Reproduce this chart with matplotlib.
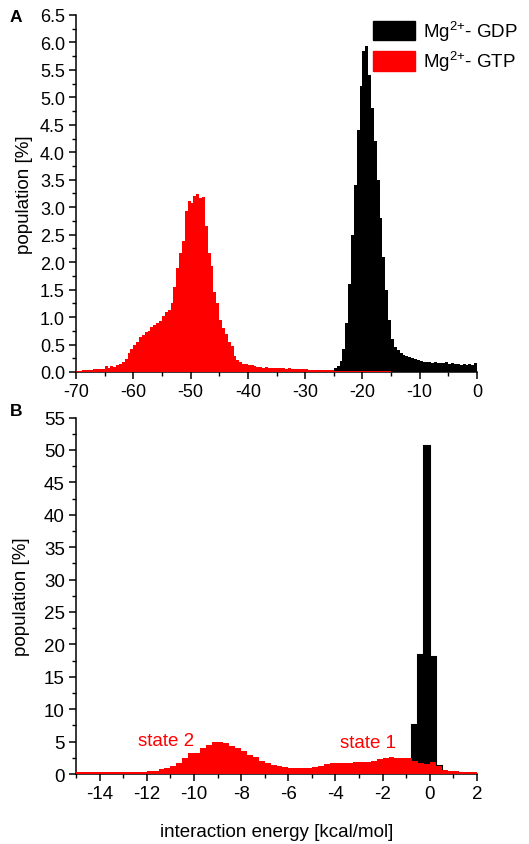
import numpy as np
import matplotlib
matplotlib.use("Agg")
import matplotlib.pyplot as plt
from matplotlib.patches import Patch
from matplotlib.ticker import MultipleLocator

plt.rcParams['font.family'] = ['Liberation Sans', 'DejaVu Sans']
plt.rcParams['mathtext.default'] = 'regular'
plt.rcParams['axes.unicode_minus'] = False

# panel A: bin width 0.5 kcal/mol
gtp_a_start, gtp_a_width = -70.0, 0.5
gtp_a = [0.02, 0.02, 0.03, 0.04, 0.04, 0.04, 0.05, 0.05, 0.06, 0.06,
         0.10, 0.08, 0.10, 0.09, 0.12, 0.15, 0.18, 0.23, 0.35, 0.42,
         0.50, 0.55, 0.64, 0.68, 0.72, 0.74, 0.82, 0.86, 0.90, 0.92,
         1.02, 1.10, 1.12, 1.25, 1.55, 1.90, 2.17, 2.39, 2.93, 3.11,
         3.08, 3.20, 3.24, 3.17, 3.18, 2.66, 2.17, 1.93, 1.45, 1.26,
         0.95, 0.80, 0.70, 0.55, 0.48, 0.30, 0.22, 0.18, 0.15, 0.14,
         0.13, 0.12, 0.10, 0.09,
         0.09, 0.08, 0.09, 0.08, 0.08, 0.07, 0.08, 0.07, 0.07, 0.06,
         0.07, 0.06, 0.06, 0.05, 0.06, 0.05,
         0.05, 0.04, 0.04, 0.04, 0.03, 0.04, 0.03, 0.03, 0.03, 0.03,
         0.02, 0.02, 0.02, 0.02, 0.02, 0.02, 0.02, 0.02, 0.02, 0.02,
         0.02, 0.02, 0.02, 0.02, 0.02, 0.02, 0.02, 0.02, 0.02, 0.02]

gdp_a_start, gdp_a_width = -27.0, 0.5
gdp_a = [0.02, 0.02, 0.03, 0.04, 0.07, 0.10,
         0.20, 0.42, 0.90, 1.60, 2.50, 3.40, 4.40, 5.20, 5.85, 5.94,
         5.40, 4.80, 4.20, 3.50, 2.80, 2.10, 1.50, 0.95, 0.60, 0.45,
         0.40, 0.35, 0.31, 0.29, 0.27, 0.25, 0.23, 0.22,
         0.20, 0.19, 0.18, 0.19, 0.17, 0.18, 0.16, 0.17, 0.16, 0.18,
         0.15, 0.16, 0.14, 0.15, 0.13, 0.14, 0.13, 0.15, 0.12, 0.17]

# panel B: bin width 0.25 kcal/mol
gtp_b_start, gtp_b_width = -15.0, 0.25
gtp_b = [0.30, 0.30, 0.30, 0.30, 0.30, 0.30, 0.30, 0.30, 0.30, 0.30, 0.30, 0.30,
         0.40, 0.50, 0.70, 0.90, 1.20, 1.70, 2.50, 3.20, 3.20, 4.00, 4.50, 4.90,
         4.90, 4.80, 4.40, 4.00, 3.50, 3.00, 2.60, 2.05, 1.70, 1.45, 1.20, 1.10,
         1.00, 1.00, 1.00, 1.00, 1.10, 1.30, 1.50, 1.65, 1.65, 1.65, 1.65, 1.85,
         1.85, 1.85, 2.05, 2.30, 2.45, 2.65, 2.55, 2.45, 2.45, 1.95, 1.70, 1.60,
         1.85, 1.20, 0.65, 0.40, 0.40, 0.25, 0.25, 0.25]

gdp_b_start, gdp_b_width = -0.75, 0.25
gdp_b = [7.6, 18.3, 50.6, 18.0, 1.3]

legend_labels = ['Mg$^{2{+}}$- GDP', 'Mg$^{2{+}}$- GTP']


def edges(start, width, vals):
    return start + width * np.arange(len(vals) + 1)


def style_axes(ax, fs):
    for s in ['top', 'right']:
        ax.spines[s].set_visible(False)
    for s in ['left', 'bottom']:
        ax.spines[s].set_linewidth(1.1)
    ax.tick_params(which='major', direction='out', length=5, width=1.1,
                   labelsize=fs, pad=3)
    ax.tick_params(which='minor', direction='out', length=3, width=1.0)


fig = plt.figure(figsize=(5.29, 8.45), dpi=100)

# ---- panel A
axA = fig.add_axes([0.1437, 0.5586, 0.758, 0.4225])
axA.stairs(gdp_a, edges(gdp_a_start, gdp_a_width, gdp_a), fill=True,
           color='black', zorder=2)
axA.stairs(gtp_a, edges(gtp_a_start, gtp_a_width, gtp_a), fill=True,
           color='#ff0000', zorder=3)
axA.set_xlim(-70, 0)
axA.set_ylim(0, 6.5)
axA.xaxis.set_major_locator(MultipleLocator(10))
axA.xaxis.set_minor_locator(MultipleLocator(5))
axA.yaxis.set_major_locator(MultipleLocator(0.5))
axA.yaxis.set_minor_locator(MultipleLocator(0.25))
axA.yaxis.set_major_formatter(lambda v, p: f"{v:.1f}")
style_axes(axA, 13)
axA.set_ylabel('population [%]', fontsize=13.5, labelpad=5)

# ---- panel B
axB = fig.add_axes([0.1437, 0.0828, 0.758, 0.4219])
axB.bar(edges(gdp_b_start, gdp_b_width, gdp_b)[:-1], gdp_b, width=gdp_b_width,
        align='edge', color='black', edgecolor='black', linewidth=1.5, zorder=2)
axB.stairs(gtp_b, edges(gtp_b_start, gtp_b_width, gtp_b), fill=True,
           color='#ff0000', zorder=3)
axB.set_xlim(-15, 2)
axB.set_ylim(0, 55)
axB.xaxis.set_major_locator(MultipleLocator(2))
axB.xaxis.set_minor_locator(MultipleLocator(1))
axB.yaxis.set_major_locator(MultipleLocator(5))
axB.yaxis.set_minor_locator(MultipleLocator(2.5))
style_axes(axB, 13.5)
axB.set_ylabel('population [%]', fontsize=13.5, labelpad=10)
axB.set_xlabel('interaction energy [kcal/mol]', fontsize=13.5, labelpad=15)

axB.text(-11.2, 5.1, 'state 2', color='#ff0000', fontsize=13.5, ha='center', va='center')
axB.text(-2.6, 4.9, 'state 1', color='#ff0000', fontsize=13.5, ha='center', va='center')

# panel letters
fig.text(0.018, 0.988, 'A', fontsize=12.5, fontweight='bold', va='top')
fig.text(0.018, 0.522, 'B', fontsize=12.5, fontweight='bold', va='top')

handles = [Patch(facecolor='black', edgecolor='black'),
           Patch(facecolor='#ff0000', edgecolor='#ff0000')]
fig.legend(handles, legend_labels, loc='upper right',
           bbox_to_anchor=(1.0, 0.990), frameon=False, fontsize=13.5,
           handlelength=2.2, handleheight=1.25, handletextpad=0.45,
           labelspacing=0.35, borderpad=0.1)

fig.savefig('out.png', dpi=100)
